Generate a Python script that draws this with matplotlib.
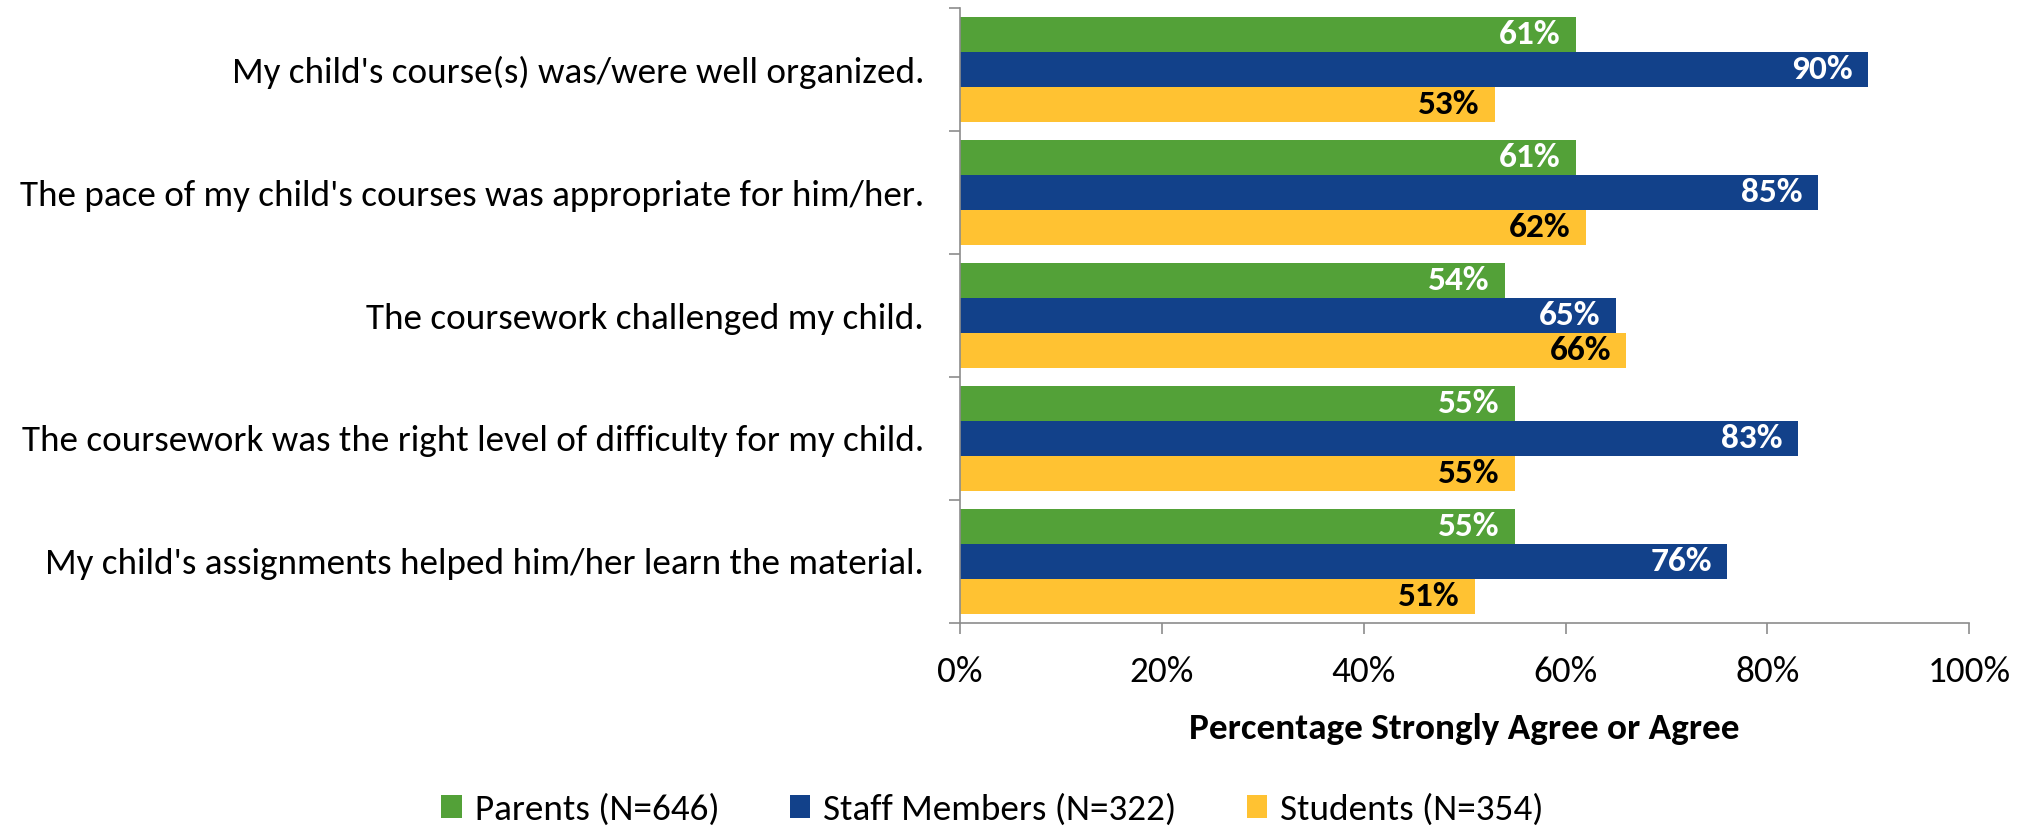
import numpy as np
import matplotlib.pyplot as plt
from matplotlib.ticker import FixedLocator, PercentFormatter

plt.rcParams['font.family'] = ['Carlito', 'Open Sans', 'DejaVu Sans']

# === Data ===
questions = [
    "My child's course(s) was/were well organized.",
    "The pace of my child's courses was appropriate for him/her.",
    "The coursework challenged my child.",
    "The coursework was the right level of difficulty for my child.",
    "My child's assignments helped him/her learn the material.",
]
parents = [61, 61, 54, 55, 55]
staff = [90, 85, 65, 83, 76]
students = [53, 62, 66, 55, 51]

series = [
    ("Parents (N=646)", parents, "#53A138", "white"),
    ("Staff Members (N=322)", staff, "#12418A", "white"),
    ("Students (N=354)", students, "#FFC232", "black"),
]

FS = 26.7

fig = plt.figure(figsize=(20.3, 8.26), dpi=100)
ax = fig.add_axes([0.473, 0.246, 0.497, 0.744])

y = np.arange(len(questions))
h = 0.285
for k, (name, vals, col, tcol) in enumerate(series):
    pos = y + (k - 1) * h
    bars = ax.barh(pos, vals, height=h, color=col, label=name)
    for b, v in zip(bars, vals):
        ax.text(v - 1.5, b.get_y() + b.get_height() / 2, f"{v}%",
                ha='right', va='center', color=tcol, fontsize=25.5,
                fontweight='bold')

ax.set_xlim(0, 100)
ax.set_ylim(len(questions) - 0.5, -0.5)
ax.set_yticks(y)
ax.set_yticklabels(questions, fontsize=FS)
ax.yaxis.set_minor_locator(FixedLocator(np.arange(-0.5, len(questions), 1.0)))
ax.tick_params(axis='y', which='major', length=0, pad=26)
ax.tick_params(axis='y', which='minor', length=8, color='#8c8c8c', width=1.2)

ax.set_xticks(np.arange(0, 101, 20))
ax.xaxis.set_major_formatter(PercentFormatter(decimals=0))
ax.tick_params(axis='x', length=8, color='#8c8c8c', width=1.2, pad=16,
               labelsize=FS)
ax.set_xlabel("Percentage Strongly Agree or Agree", fontsize=FS,
              fontweight='bold', labelpad=18)

for s in ['top', 'right']:
    ax.spines[s].set_visible(False)
for s in ['left', 'bottom']:
    ax.spines[s].set_color('#8c8c8c')
    ax.spines[s].set_linewidth(1.2)

fig.legend(loc='center', bbox_to_anchor=(0.489, 0.02), ncol=3, frameon=False,
           fontsize=FS, handlelength=0.55, handleheight=0.55, handletextpad=0.35,
           columnspacing=1.9)

plt.savefig("out.png")
